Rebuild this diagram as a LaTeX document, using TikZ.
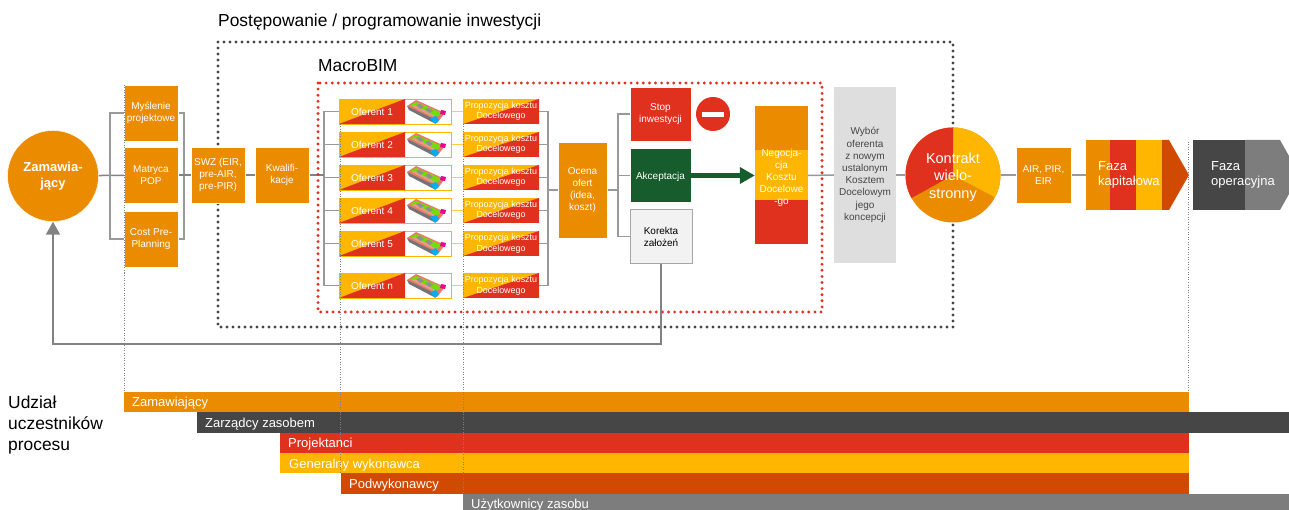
\documentclass[tikz,border=0pt]{standalone}
\usepackage{fontspec}
\setmainfont{Liberation Sans}
\usetikzlibrary{arrows.meta}
\definecolor{cor}{HTML}{EB8C00}
\definecolor{cre}{HTML}{E0301E}
\definecolor{cye}{HTML}{FFB600}
\definecolor{cdo}{HTML}{D04A02}
\definecolor{cdg}{HTML}{464646}
\definecolor{cmg}{HTML}{7D7D7D}
\definecolor{clg}{HTML}{DEDEDE}
\definecolor{cgr}{HTML}{175C2C}
\definecolor{cln}{HTML}{999999}
\pgfdeclarelayer{lines}
\pgfdeclarelayer{dots}
\pgfsetlayers{lines,dots,main}
\tikzset{
  x=1pt,y=-1pt,
  boxn/.style={inner sep=0pt,align=center,text=white,font=\fontsize{10}{12}\selectfont,fill=cor,draw=white,line width=0.4pt,execute at begin node={\rule{0pt}{11pt}}},
  conn/.style={draw=cln,line width=1.5pt},
  bartxt/.style={inner sep=0pt,anchor=base west,text=white,font=\fontsize{13}{15}\selectfont},
  guide/.style={draw=gray,line width=0.7pt,dash pattern=on 1pt off 1.5pt},
  dotblack/.style={draw=cdg,line width=3.2pt,line cap=round,dash pattern=on 0pt off 6pt},
  dotred/.style={draw=cre,line width=3.2pt,line cap=round,dash pattern=on 0pt off 6.1pt},
  title/.style={inner sep=0pt,anchor=base west,font=\fontsize{17.4}{20}\selectfont,text=black},
  tiny/.style={inner sep=0pt,align=center,text=white,font=\fontsize{8.9}{10.4}\selectfont},
  phasetxt/.style={inner sep=0pt,anchor=west,align=left,text=white,font=\fontsize{13}{15.5}\selectfont},
}
\begin{document}
\begin{tikzpicture}
\useasboundingbox (0,0) rectangle (1289,510);
% dotted frames
\begin{pgfonlayer}{dots}
\draw[dotblack] (218,42) rectangle (953,327);
\draw[dotred] (318,83) rectangle (822,312);
\end{pgfonlayer}
\node[title] (t1) at (218,27) {Postępowanie / programowanie inwestycji};
\node[title] (t2) at (318,72) {MacroBIM};
% left part
\node[circle,fill=cor,draw=white,line width=0.4pt,minimum size=91pt,inner sep=0pt,align=center,text=white,font=\bfseries\fontsize{13}{15.5}\selectfont] (zam) at (53,176) {Zamawia-\\jący};
\node[boxn,minimum width=54pt,minimum height=56pt] (myl) at (151,113) {Myślenie\\projektowe};
\node[boxn,minimum width=54pt,minimum height=56pt] (mat) at (151,175) {Matryca\\POP};
\node[boxn,minimum width=54pt,minimum height=56pt] (cst) at (151,239) {Cost Pre-\\Planning};
\node[boxn,minimum width=54pt,minimum height=56pt] (swz) at (218,175) {SWZ (EIR,\\pre-AIR,\\pre-PIR)};
\node[boxn,minimum width=54pt,minimum height=56pt] (kwa) at (282,175) {Kwalifi-\\kacje};
\coordinate (bl) at (110,175);
\coordinate (br) at (184,175);
\coordinate (bo) at (324,175);
\coordinate (bp) at (548,190);
\coordinate (bd) at (618,190);
\coordinate (ret) at (53,344);
% offers
\foreach \ty/\n in {99/1,132/2,165/3,198/4,231/5,273/n}{
  \node[inner sep=0pt,draw=cye,line width=0.8pt,fill=white,minimum width=112pt,minimum height=25pt] (of\n) at (395,\ty+12.5) {};
  \fill[cye] (339,\ty) rectangle (405,\ty+25);
  \fill[cre] (339,\ty+25) -- (405,\ty) -- (405,\ty+25) -- cycle;
  \node[inner sep=0pt,text=white,font=\fontsize{10}{12}\selectfont] (ot\n) at (372,\ty+12.5) {Oferent \n};
  \begin{scope}[shift={(339,\ty)}]
    \fill[cre!65] (68,7) -- (77,1) -- (106,14) -- (98,24) -- cycle;
    \fill[cdg!75] (68,7) -- (70,11) -- (95,24) -- (97,21) -- cycle;
    \fill[green!55!cye] (71,6) -- (77,3) -- (103,14) -- (96,19) -- cycle;
    \fill[cre!50] (73,7) -- (76,6) -- (98,18) -- (96,19) -- cycle;
    \fill[cdg!60] (77,6) -- (81,5) -- (85,8) -- (81,10) -- cycle;
    \fill[cdg!60] (86,10) -- (90,9) -- (94,12) -- (90,14) -- cycle;
    \fill[cyan] (91,19) -- (97,17) -- (100,21) -- (96,25) -- cycle;
    \fill[magenta] (102,11) -- (107,12) -- (106,16) -- (101,15) -- cycle;
  \end{scope}
  \node[inner sep=0pt,minimum width=76pt,minimum height=25pt] (pr\n) at (501,\ty+12.5) {};
  \fill[cye] (463,\ty) rectangle (539,\ty+25);
  \fill[cre] (463,\ty+25) -- (539,\ty) -- (539,\ty+25) -- cycle;
  \node[tiny] (pt\n) at (501,\ty+12.5) {Propozycja kosztu\\Docelowego};
  \begin{pgfonlayer}{lines}
    \draw[conn] (bo) |- (of\n.west);
    \draw[draw=cye!70,line width=0.8pt] (of\n.east) -- (pr\n.west);
    \draw[conn] (pr\n.east) -| (bp);
  \end{pgfonlayer}
}
\node[boxn,minimum width=49pt,minimum height=96pt] (oce) at (582.5,190) {Ocena\\ofert\\(idea,\\koszt)};
\node[boxn,fill=cre,minimum width=61pt,minimum height=54pt] (sto) at (660.5,114) {Stop\\inwestycji};
\node[boxn,fill=cgr,minimum width=61pt,minimum height=54pt] (akc) at (660.5,175.5) {Akceptacja};
\node[boxn,fill=black!5,draw=gray!70,line width=0.8pt,text=black,minimum width=62pt,minimum height=54pt] (kor) at (661,236.5) {Korekta\\założeń};
\node[circle,fill=cre,minimum size=34pt,inner sep=0pt] (no) at (713,114) {};
\fill[white] (702,112) rectangle (724,117);
% negotiation
\fill[cor] (755,106) rectangle (808,150);
\fill[cye] (755,150) rectangle (808,200);
\fill[cre] (755,200) rectangle (808,244);
\node[boxn,fill=none,draw=none,minimum width=53pt,minimum height=138pt] (neg) at (781.5,175.5) {\rule{0pt}{13pt}Negocja-\\cja\\Kosztu\\Docelowe\\-go};
\draw[-{Triangle[length=15pt,width=16pt]},draw=cgr,line width=5.5pt] (akc.east) -- (neg.west);
\node[boxn,fill=clg,draw=none,text=cdg,minimum width=62pt,minimum height=176pt,font=\fontsize{10}{12.2}\selectfont] (wyb) at (865,175) {Wybór\\oferenta\\z nowym\\ustalonym\\Kosztem\\Docelowym\\jego\\koncepcji};
% contract circle
\fill[cor] (953,175) circle (47.5);
\fill[cye] (953,175) -- (953,127.5) arc[start angle=-90,end angle=28,radius=47.5] -- cycle;
\fill[cre] (953,175) -- (953,127.5) arc[start angle=-90,end angle=-209,radius=47.5] -- cycle;
\node[circle,minimum size=95pt,inner sep=0pt,align=center,text=white,font=\fontsize{14.5}{17.5}\selectfont] (kon) at (953,175) {\rule{0pt}{15pt}Kontrakt\\wielo-\\stronny};
\node[boxn,minimum width=55pt,minimum height=56pt] (air) at (1043.5,175) {AIR, PIR,\\EIR};
% phases
\fill[cor] (1086,140) rectangle (1110,210);
\fill[cre] (1110,140) rectangle (1136,210);
\fill[cye] (1136,140) rectangle (1162,210);
\fill[cdo] (1162,140) -- (1169,140) -- (1189,175) -- (1169,210) -- (1162,210) -- cycle;
\node[inner sep=0pt,minimum width=103pt,minimum height=70pt] (kap) at (1137.5,175) {};
\node[phasetxt] (kapt) at (1098,175) {Faza\\kapitałowa};
\fill[cdg] (1193,140) rectangle (1245,210);
\fill[cmg] (1245,140) -- (1280,140) -- (1289,156) -- (1289,194) -- (1280,210) -- (1245,210) -- cycle;
\node[phasetxt] (opt) at (1211,175) {Faza\\operacyjna};
% connectors
\begin{pgfonlayer}{lines}
\draw[conn,draw=cln!85!black] (zam) -- (mat);
\draw[conn] (myl.west) -| (bl) |- (cst.west);
\draw[conn] (myl.east) -| (br) |- (cst.east);
\draw[conn,draw=cln!85!black] (mat) -- (swz);
\draw[conn,draw=cln!85!black] (swz) -- (kwa);
\draw[conn,draw=cln!85!black] (kwa.east) -- (bo);
\draw[conn] (bp) -- (oce.west);
\draw[conn] (oce.east) -- (bd);
\draw[conn] (sto.west) -| (bd) |- (kor.west);
\draw[conn] (bd |- akc.west) -- (akc.west);
\draw[conn] (neg.east) -- (wyb.west);
\draw[conn] (wyb.east) -- (kon.west);
\draw[conn] (kon.east) -- (air.west);
\draw[conn] (air.east) -- (kap.west);
\end{pgfonlayer}
\draw[draw=cln!85!black,line width=2pt,-{Triangle[length=13pt,width=14pt]}] (kor.south) |- (ret) -- (zam.south);
% bars
\fill[cor] (124,392) rectangle (1189,412);
\fill[cdg] (197,412) rectangle (1289,433);
\fill[cre] (280,433) rectangle (1189,453);
\fill[cye] (280,453) rectangle (1189,473);
\fill[cdo] (341,473) rectangle (1189,494);
\fill[cmg] (463,494) rectangle (1289,510);
\node[bartxt] (b1) at (132,406) {Zamawiający};
\node[bartxt] (b2) at (205,427) {Zarządcy zasobem};
\node[bartxt] (b3) at (288,447) {Projektanci};
\node[bartxt] (b4) at (289,468) {Generalny wykonawca};
\node[bartxt] (b5) at (349,488) {Podwykonawcy};
\node[bartxt] (b6) at (471,508) {Użytkownicy zasobu};
\node[title] (u1) at (8,408) {Udział};
\node[title] (u2) at (8,429) {uczestników};
\node[title] (u3) at (8,450) {procesu};
% guides
\draw[guide] (124,85) -- (124,392);
\draw[guide] (340.5,124) -- (340.5,473);
\draw[guide] (463,124) -- (463,494);
\draw[guide] (1188.5,142) -- (1188.5,392);
\end{tikzpicture}
\end{document}
